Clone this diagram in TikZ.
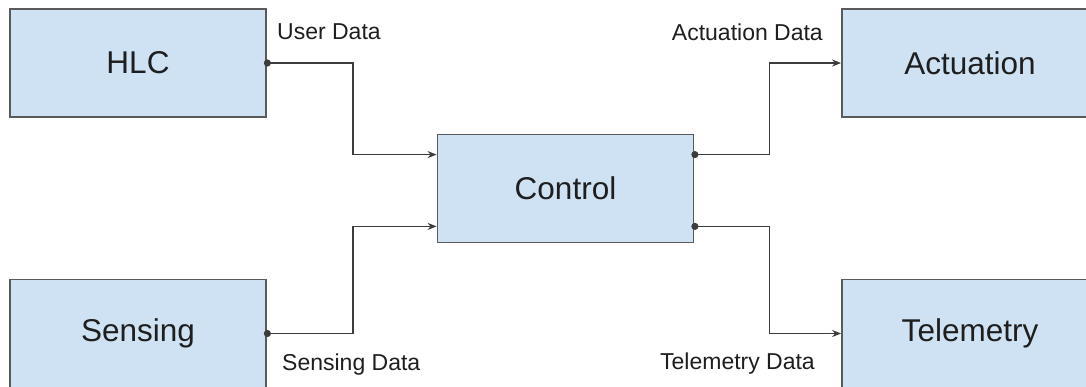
\documentclass[tikz,border=0pt]{standalone}
\usepackage{fontspec}
\setmainfont{Liberation Sans}
\usetikzlibrary{arrows.meta,calc}
\definecolor{boxfill}{HTML}{CFE2F3}
\definecolor{boxline}{HTML}{5A5A5A}
\definecolor{wire}{HTML}{3C3C3C}
\definecolor{ink}{HTML}{1E1E1E}
\begin{document}
\begin{tikzpicture}[x=1pt,y=-1pt,
  block/.style={draw=boxline,fill=boxfill,line width=1.8pt,
    minimum width=256pt,minimum height=108pt,inner sep=0pt,
    text=ink,font=\fontsize{31.5}{36}\selectfont},
  conn/.style={draw=wire,line width=1.7pt,shorten <=-3pt,
    {Circle[length=7pt]}-{Stealth[length=9pt,width=7pt]}},
  tag/.style={text=ink,font=\fontsize{23}{27}\selectfont,inner sep=0pt}]
  \useasboundingbox (0,0) rectangle (1086,387);
  \clip (0,0) rectangle (1086,387);
  % blocks
  \node[block] (hlc) at (138,63) {HLC};
  \node[block] (sen) at (138,333.5) {Sensing};
  \node[block] (ctl) at (565.5,188.5) {Control};
  \node[block] (act) at (970,63) {Actuation};
  \node[block] (tel) at (970,333.5) {Telemetry};
  % signal wires
  \draw[conn] (hlc.east) -- ++(86,0) |- ([yshift=-21pt]ctl.north west);
  \draw[conn] (sen.east) -- ++(86,0) |- ([yshift=17pt]ctl.south west);
  \draw[conn] ([yshift=-21pt]ctl.north east) -- ++(75,0) |- (act.west);
  \draw[conn] ([yshift=17pt]ctl.south east) -- ++(75,0) |- (tel.west);
  % wire labels
  \node[tag,anchor=west] (lu) at (277,32) {User Data};
  \node[tag,anchor=west] (ls) at (282,365) {Sensing Data};
  \node[tag,anchor=east] (la) at (823,32) {Actuation Data};
  \node[tag,anchor=east] (lt) at (815,364) {Telemetry Data};
\end{tikzpicture}
\end{document}
